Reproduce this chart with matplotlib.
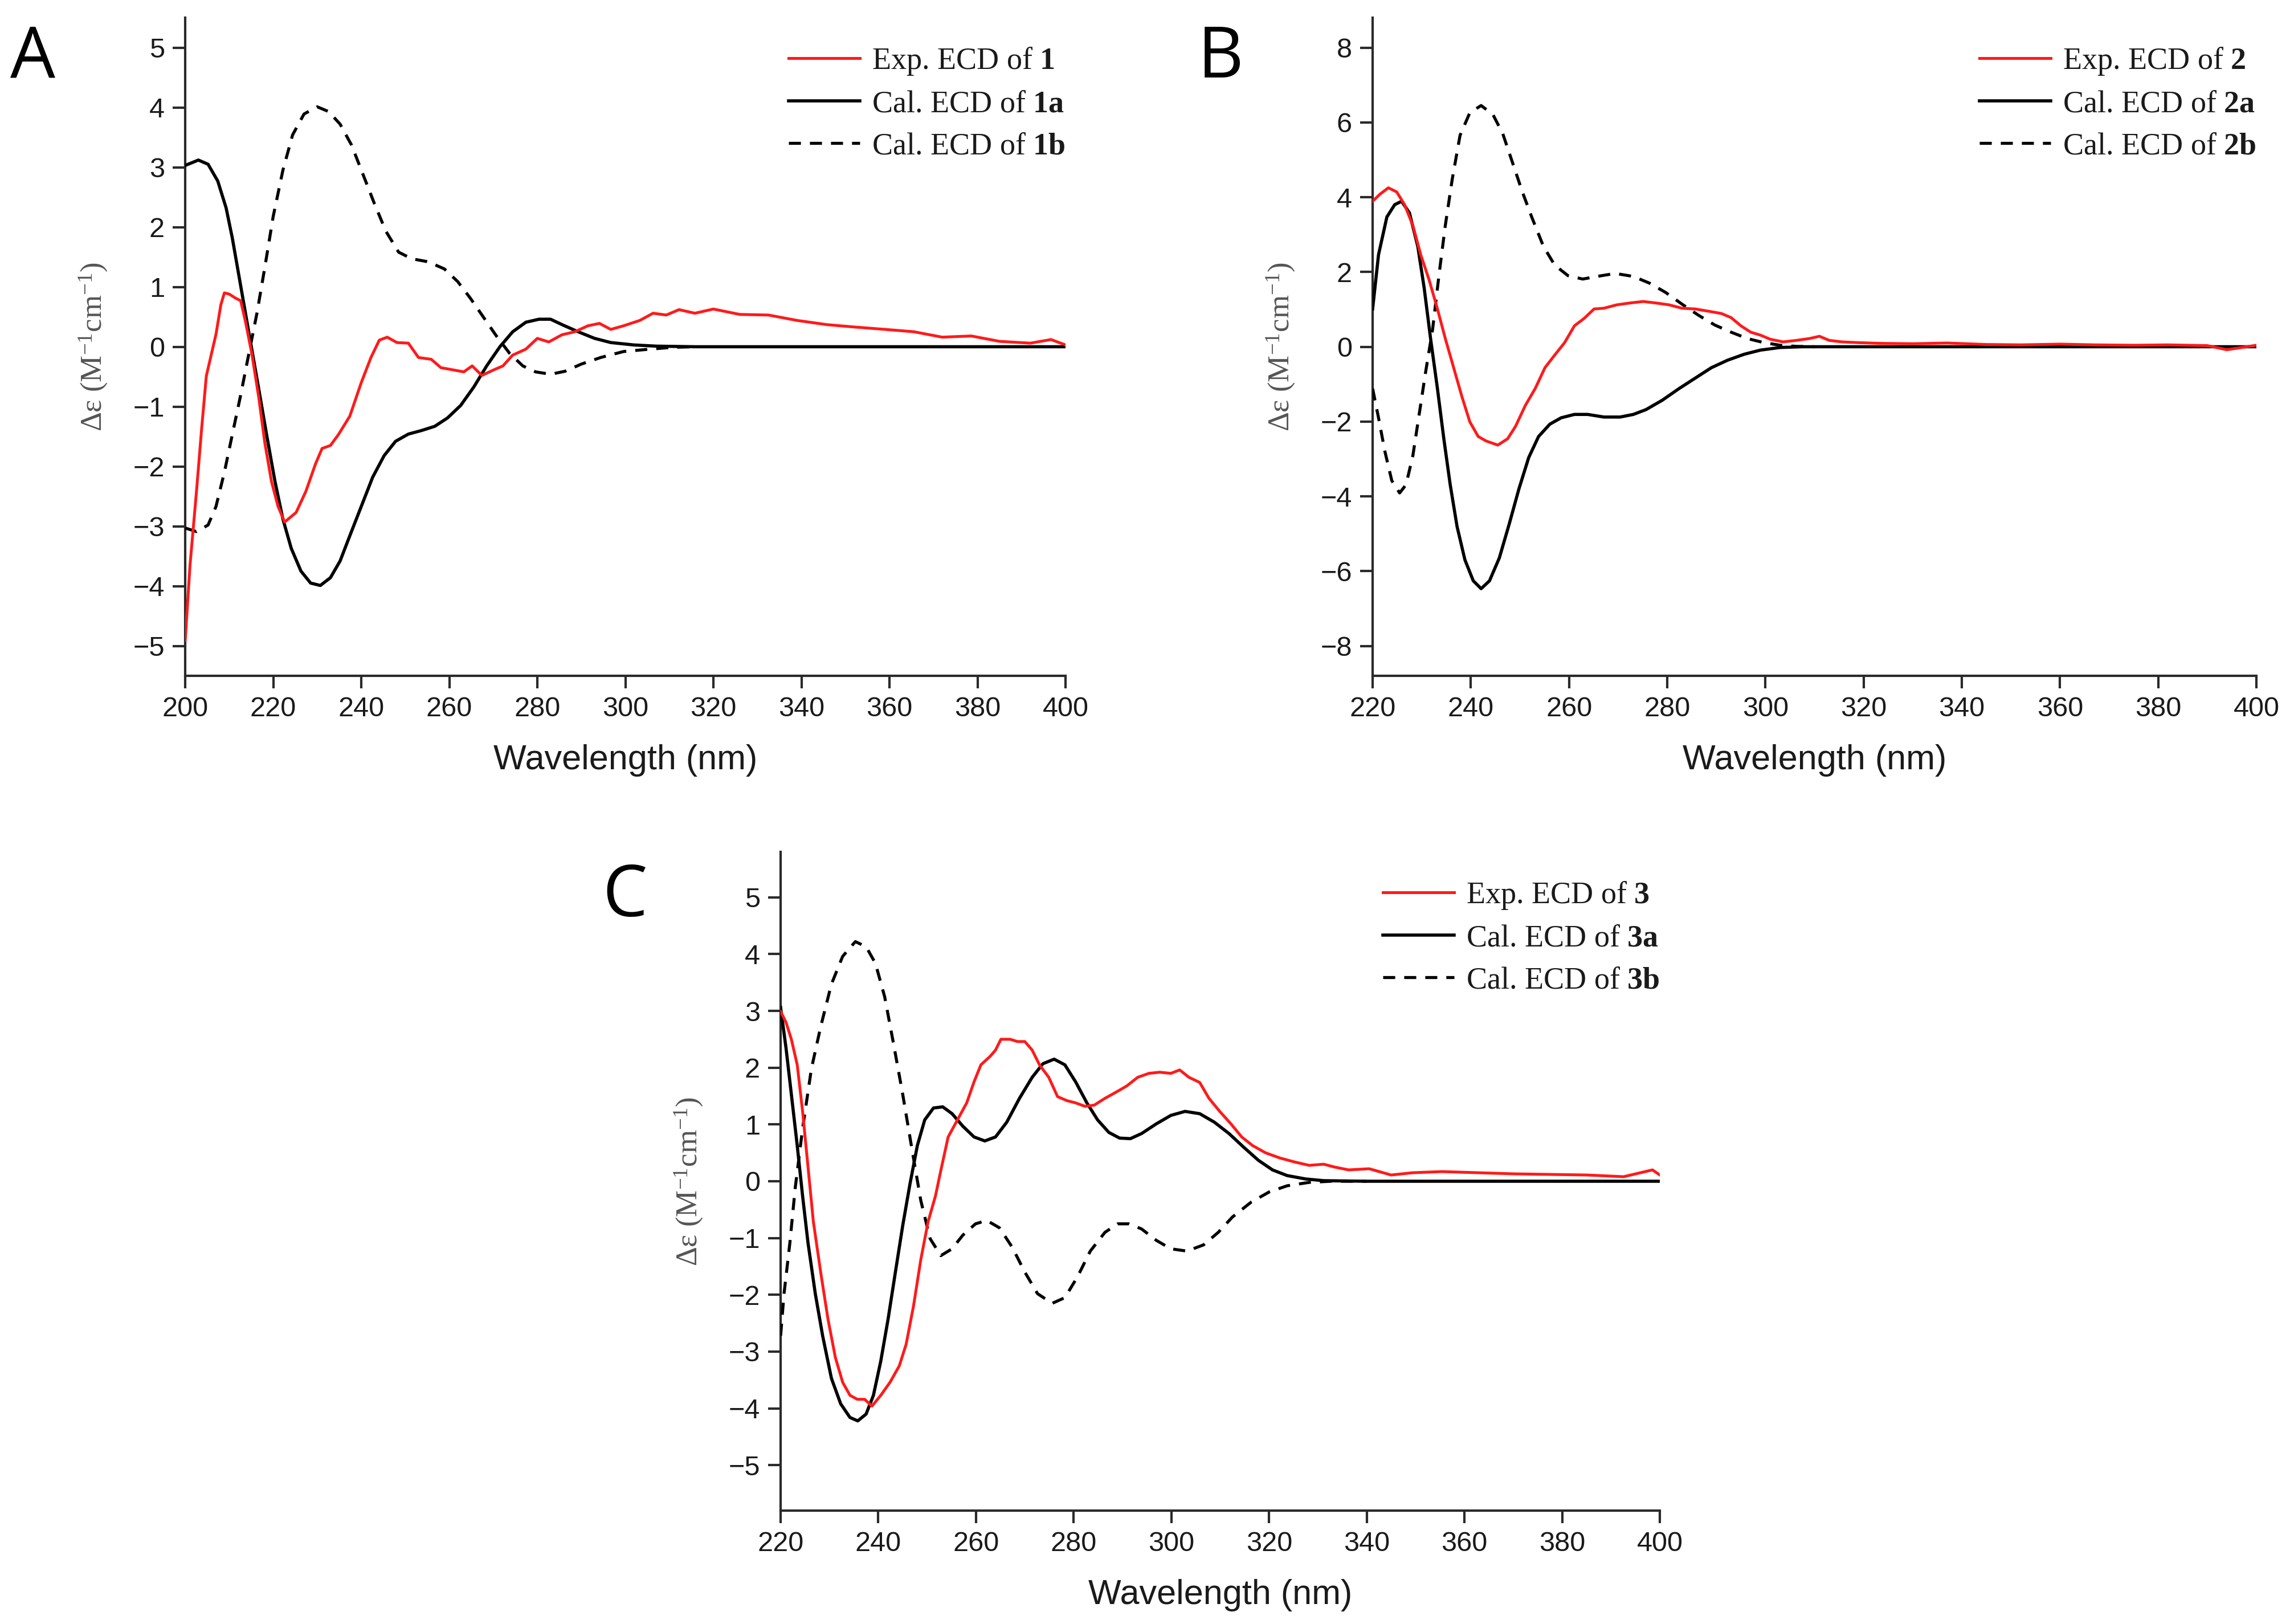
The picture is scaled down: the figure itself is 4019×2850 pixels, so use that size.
import matplotlib
matplotlib.use("Agg")
import matplotlib.pyplot as plt
from matplotlib.ticker import MultipleLocator

plt.rcParams['mathtext.fontset'] = 'custom'
plt.rcParams['mathtext.rm'] = 'Liberation Serif'
plt.rcParams['mathtext.it'] = 'Liberation Serif:italic'
plt.rcParams['mathtext.bf'] = 'Liberation Serif:bold'

# ---------------- Panel A data ----------------
a_exp_x = [200, 201.1, 202.6, 203.7, 204.8, 205.9, 207, 208.1, 208.9, 210, 211.5, 212.6, 213.7, 215.2, 216.7,
           218.1, 219.6, 221.1, 222.6, 225.2, 227.4, 229.6, 231.1, 233, 234.8, 237.4, 240, 242.2, 244.1,
           245.9, 248.1, 250.7, 253, 255.9, 258.1, 261.1, 263.3, 265.2, 267.4, 270, 272.2, 274.4, 277.4,
           280, 282.6, 285.6, 288.5, 291.5, 294.1, 296.7, 299.6, 303.3, 306.3, 309.3, 312.2, 315.8, 320,
           326, 332.5, 339, 345.7, 352, 359, 365.6, 372, 378.6, 385, 392, 396.7, 400]
a_exp_y = [-4.91, -3.65, -2.39, -1.4, -0.49, -0.14, 0.21, 0.7, 0.9, 0.88, 0.81, 0.77, 0.42, -0.14, -0.84,
           -1.61, -2.25, -2.67, -2.93, -2.77, -2.42, -1.96, -1.7, -1.65, -1.47, -1.16, -0.6, -0.18, 0.11,
           0.16, 0.07, 0.06, -0.18, -0.21, -0.35, -0.39, -0.42, -0.32, -0.48, -0.39, -0.32, -0.14, -0.04,
           0.14, 0.08, 0.2, 0.25, 0.35, 0.39, 0.29, 0.35, 0.44, 0.56, 0.53, 0.62, 0.56, 0.63,
           0.54, 0.53, 0.44, 0.37, 0.33, 0.29, 0.25, 0.16, 0.18, 0.09, 0.06, 0.12, 0.03]

a_cal_a_x = [200, 203, 205.2, 207.4, 209.3, 210.7, 212.2, 213.7, 215.2, 216.7, 218.5, 220.4, 222.2, 224.1,
             226.3, 228.5, 230.7, 233, 235.2, 237.4, 240, 242.6, 245.2, 247.8, 250.7, 253.7, 256.7, 259.6,
             262.6, 265.6, 268.5, 271.5, 274.4, 277.4, 280.4, 283, 285.9, 289.3, 293, 296.7, 301.9, 307,
             316, 400]
a_cal_a_y = [3.03, 3.12, 3.05, 2.77, 2.32, 1.82, 1.19, 0.56, -0.07, -0.7, -1.47, -2.25, -2.88, -3.37,
             -3.75, -3.95, -3.99, -3.86, -3.58, -3.16, -2.67, -2.18, -1.82, -1.58, -1.46, -1.4, -1.33, -1.19,
             -0.98, -0.67, -0.32, 0.0, 0.25, 0.41, 0.46, 0.46, 0.36, 0.25, 0.14, 0.07, 0.03, 0.01,
             0.0, 0.0]

a_cal_b_x = [200, 202.6, 205.2, 207, 208.9, 210.7, 212.6, 214.4, 216.3, 218.1, 220, 222.2, 224.4, 227, 230,
             232.6, 235.2, 237.8, 240.4, 243, 245.6, 248.5, 251.5, 255.2, 258.9, 261.9, 264.8, 267.8,
             270.7, 273.7, 276.7, 279.6, 283, 286.3, 290, 294.4, 299.6, 305.6, 310.7, 315.8]
a_cal_b_y = [-3.03, -3.09, -2.98, -2.67, -2.1, -1.47, -0.81, -0.14, 0.56, 1.33, 2.18, 2.95, 3.54, 3.89, 4.01,
             3.93, 3.72, 3.37, 2.88, 2.39, 1.93, 1.58, 1.47, 1.42, 1.3, 1.09, 0.81, 0.49,
             0.18, -0.11, -0.32, -0.42, -0.46, -0.41, -0.29, -0.18, -0.08, -0.04, -0.01, 0.0]

# ---------------- Panel B data ----------------
b_exp_x = [220, 221.5, 223.2, 224.9, 226.5, 228.2, 229.8, 231.5, 233.2, 234.8, 236.5, 238.2, 239.8, 241.5,
           243.1, 245.5, 247.5, 249.1, 251.1, 253.1, 255.1, 257.1, 259.1, 261.1, 263.1, 265.1, 267.1,
           269.7, 272.4, 275.1, 277.7, 280.4, 283, 285.7, 288.4, 291, 293, 295, 297, 299, 301, 303.6,
           306.3, 309, 311, 313, 315.6, 318.9, 323.5, 330, 337, 345, 352, 360, 367, 375, 382, 390, 394, 400]
b_exp_y = [3.89, 4.08, 4.25, 4.14, 3.8, 3.24, 2.46, 1.79, 1.01, 0.22, -0.56, -1.34, -2.01, -2.4,
           -2.52, -2.63, -2.46, -2.13, -1.57, -1.12, -0.56, -0.22, 0.11, 0.56, 0.76, 1.01, 1.03,
           1.12, 1.17, 1.21, 1.17, 1.12, 1.03, 1.01, 0.95, 0.89, 0.78, 0.56, 0.39, 0.31, 0.2, 0.13,
           0.17, 0.22, 0.28, 0.17, 0.13, 0.11, 0.09, 0.08, 0.1, 0.06, 0.05, 0.07, 0.05, 0.04, 0.05, 0.03, -0.08, 0.04]

b_cal_a_x = [220, 221.2, 222.9, 224.5, 225.9, 227.5, 229.2, 230.5, 231.8, 233.2, 234.5, 235.8, 237.2, 238.8,
             240.5, 242.1, 243.8, 245.8, 247.8, 249.8, 251.8, 253.8, 256.1, 258.4, 261.1, 263.8, 267.1,
             270.4, 273.1, 275.7, 279, 282.4, 285.7, 289, 292.3, 295.7, 299, 303, 307.6, 400]
b_cal_a_y = [1.01, 2.46, 3.47, 3.8, 3.89, 3.58, 2.68, 1.57, 0.22, -1.12, -2.46, -3.69, -4.81, -5.7,
             -6.26, -6.47, -6.26, -5.65, -4.75, -3.8, -2.96, -2.4, -2.07, -1.9, -1.81, -1.81, -1.88,
             -1.88, -1.81, -1.68, -1.43, -1.12, -0.84, -0.56, -0.36, -0.2, -0.09, -0.02, 0.0, 0.0]

b_cal_b_x = [220, 221.2, 222.5, 223.9, 225.5, 226.8, 228.2, 229.5, 230.8, 232.2, 233.5, 234.8, 236.2, 237.8,
             239.8, 242.1, 244.5, 246.5, 248.5, 250.5, 252.4, 254.8, 257.1, 259.8, 262.8, 265.7, 269.4,
             273.1, 276.4, 279.7, 283, 286.4, 289.7, 293, 296.3, 299.7, 303, 306.3, 310]
b_cal_b_y = [-1.12, -1.9, -2.8, -3.58, -3.91, -3.69, -2.91, -1.79, -0.67, 0.45, 1.9, 3.24, 4.47, 5.65,
             6.26, 6.45, 6.21, 5.7, 4.92, 4.14, 3.47, 2.68, 2.18, 1.9, 1.81, 1.88, 1.96,
             1.88, 1.7, 1.45, 1.14, 0.84, 0.58, 0.39, 0.22, 0.11, 0.04, 0.01, 0.0]

# ---------------- Panel C data ----------------
c_exp_x = [220, 221.1, 222.2, 223.4, 224.5, 225.6, 226.7, 228.2, 229.7, 231.2, 232.7, 234.2, 235.7, 237.2,
           238.7, 240.5, 242.4, 244.3, 245.7, 247.2, 248.7, 250.2, 251.7, 252.8, 254.3, 256.2, 258.1,
           259.6, 261, 262.9, 264, 265.1, 267, 268.5, 270, 271.5, 273, 274.9, 276.7, 278.6, 280.4, 282.3,
           284.2, 286.4, 288.7, 290.9, 293.1, 295.4, 297.6, 299.9, 301.7, 303.6, 305.8, 307.7, 309.9,
           312.2, 314.4, 316.6, 319.3, 322.2, 325.2, 328.2, 331.2, 333.4, 336.3, 340.5, 345, 349.4, 355.4,
           362.8, 370.3, 377.7, 385.1, 392.6, 398.5, 400]
c_exp_y = [2.99, 2.8, 2.5, 2.05, 1.23, 0.26, -0.71, -1.6, -2.43, -3.1, -3.54, -3.77, -3.84, -3.84,
           -3.96, -3.77, -3.54, -3.25, -2.87, -2.2, -1.38, -0.71, -0.26, 0.19, 0.78, 1.08, 1.38,
           1.75, 2.05, 2.2, 2.31, 2.5, 2.5, 2.46, 2.46, 2.31, 2.05, 1.83, 1.49, 1.42, 1.38, 1.32,
           1.34, 1.46, 1.57, 1.68, 1.83, 1.9, 1.92, 1.9, 1.96, 1.83, 1.74, 1.46, 1.23,
           1.01, 0.78, 0.63, 0.5, 0.41, 0.34, 0.28, 0.3, 0.25, 0.2, 0.22, 0.11, 0.15, 0.17,
           0.15, 0.13, 0.12, 0.11, 0.08, 0.2, 0.11]

c_cal_a_x = [220, 221.1, 222.2, 223.4, 224.5, 225.6, 227.1, 228.6, 230.4, 232.3, 234.2, 235.8, 237.5, 239,
             240.5, 242, 243.5, 245, 246.5, 248, 249.5, 251.3, 253.2, 255.1, 257.3, 259.6, 261.8, 264,
             266.3, 268.9, 271.5, 273.7, 276, 278.2, 280.4, 282.7, 284.9, 287.2, 289.4, 291.6, 293.9,
             296.9, 299.9, 302.8, 305.8, 308.8, 311.8, 314.8, 317.8, 320.7, 323.7, 327.5, 331.2, 340, 400]
c_cal_a_y = [3.06, 2.35, 1.53, 0.63, -0.26, -1.08, -1.98, -2.72, -3.47, -3.92, -4.16, -4.22, -4.1, -3.77,
             -3.17, -2.43, -1.6, -0.78, -0.04, 0.63, 1.08, 1.29, 1.31, 1.19, 0.97, 0.78, 0.71, 0.78,
             1.04, 1.46, 1.83, 2.07, 2.15, 2.05, 1.75, 1.38, 1.08, 0.86, 0.76, 0.75, 0.84,
             1.01, 1.16, 1.23, 1.19, 1.04, 0.84, 0.6, 0.37, 0.2, 0.1, 0.04, 0.01, 0.0, 0.0]

c_cal_b_x = [220, 220.7, 221.9, 223, 224.5, 226.3, 228.2, 230.4, 232.7, 235.3, 237.5, 239.4, 241.3, 243.1,
             245, 246.9, 248.7, 250.6, 252.8, 255.1, 257.3, 259.9, 262.2, 264.8, 267.4, 270, 272.6, 275.6,
             278.2, 280.8, 283.4, 286.4, 289, 291.3, 293.9, 296.9, 299.9, 303.2, 306.6, 309.6, 312.5,
             316.3, 320, 323.7, 328.2, 332.7, 340]
c_cal_b_y = [-2.72, -1.98, -1.08, -0.11, 0.93, 1.98, 2.72, 3.47, 3.96, 4.22, 4.13, 3.84, 3.25, 2.43,
             1.53, 0.56, -0.34, -1.01, -1.31, -1.19, -0.95, -0.75, -0.69, -0.82, -1.16, -1.6, -1.98, -2.15,
             -2.05, -1.68, -1.23, -0.9, -0.75, -0.75, -0.84, -1.04, -1.19, -1.23, -1.12, -0.9, -0.63,
             -0.37, -0.19, -0.08, -0.02, 0.0, 0.0]

panels = [
    dict(label='A', num='1', rect=[325/4019, 1-1186/2850, (1870-325)/4019, (1186-31)/2850],
         xlim=(200, 400), ylim=(-5.5, 5.5), ystep=1,
         exp=(a_exp_x, a_exp_y), cal_a=(a_cal_a_x, a_cal_a_y), cal_b=(a_cal_b_x, a_cal_b_y),
         lab_xy=(57/4019, 1-103/2850)),
    dict(label='B', num='2', rect=[2409/4019, 1-1186/2850, (3960-2409)/4019, (1186-31)/2850],
         xlim=(220, 400), ylim=(-8.8, 8.8), ystep=2,
         exp=(b_exp_x, b_exp_y), cal_a=(b_cal_a_x, b_cal_a_y), cal_b=(b_cal_b_x, b_cal_b_y),
         lab_xy=(2142/4019, 1-103/2850)),
    dict(label='C', num='3', rect=[1370/4019, 1-2651/2850, (2913-1370)/4019, (2651-1495)/2850],
         xlim=(220, 400), ylim=(-5.8, 5.8), ystep=1,
         exp=(c_exp_x, c_exp_y), cal_a=(c_cal_a_x, c_cal_a_y), cal_b=(c_cal_b_x, c_cal_b_y),
         lab_xy=(1097/4019, 1-1575/2850)),
]

fig = plt.figure(figsize=(40.19, 28.5), dpi=100)
fig.patch.set_facecolor('white')

spine_col = '#2a2a2a'
for p in panels:
    ax = fig.add_axes(p['rect'])
    ax.set_facecolor('none')
    ax.plot(*p['exp'], color='#ff1a1a', lw=3.6, label=f"Exp. ECD of $\\mathbf{{{p['num']}}}$", zorder=4)
    ax.plot(*p['cal_a'], color='black', lw=4.0, label=f"Cal. ECD of $\\mathbf{{{p['num']}a}}$", zorder=3)
    ax.plot(*p['cal_b'], color='black', lw=3.8, ls=(0, (4, 3)), label=f"Cal. ECD of $\\mathbf{{{p['num']}b}}$", zorder=3)
    ax.set_xlim(*p['xlim'])
    ax.set_ylim(*p['ylim'])
    ax.xaxis.set_major_locator(MultipleLocator(20))
    ax.yaxis.set_major_locator(MultipleLocator(p['ystep']))
    for s in ['top', 'right']:
        ax.spines[s].set_visible(False)
    for s in ['left', 'bottom']:
        ax.spines[s].set_linewidth(3.0)
        ax.spines[s].set_color(spine_col)
    ax.tick_params(axis='both', direction='out', length=16, width=3.0, color=spine_col,
                   labelsize=35, pad=10, labelcolor='#1a1a1a')
    for t in ax.get_xticklabels() + ax.get_yticklabels():
        t.set_fontfamily('Liberation Sans')
    ax.set_xlabel('Wavelength (nm)', fontsize=44, family='Liberation Sans', labelpad=28, color='#1a1a1a')
    ax.set_ylabel('Δε (M$^{-1}$cm$^{-1}$)', fontsize=38, family='Liberation Serif',
                  color='#555555', labelpad=30)
    leg = ax.legend(loc='upper right', bbox_to_anchor=(1.0, 0.958), frameon=False,
                    prop={'family': 'Liberation Serif', 'size': 39}, handlelength=2.3,
                    handletextpad=0.4, labelspacing=0.43, borderpad=0, borderaxespad=0)
    for t in leg.get_texts():
        t.set_color('#1a1a1a')
    fig.text(p['lab_xy'][0], p['lab_xy'][1], p['label'], fontsize=90, family='Open Sans',
             ha='center', va='center', color='black')

fig.savefig('out.png', dpi=100)
